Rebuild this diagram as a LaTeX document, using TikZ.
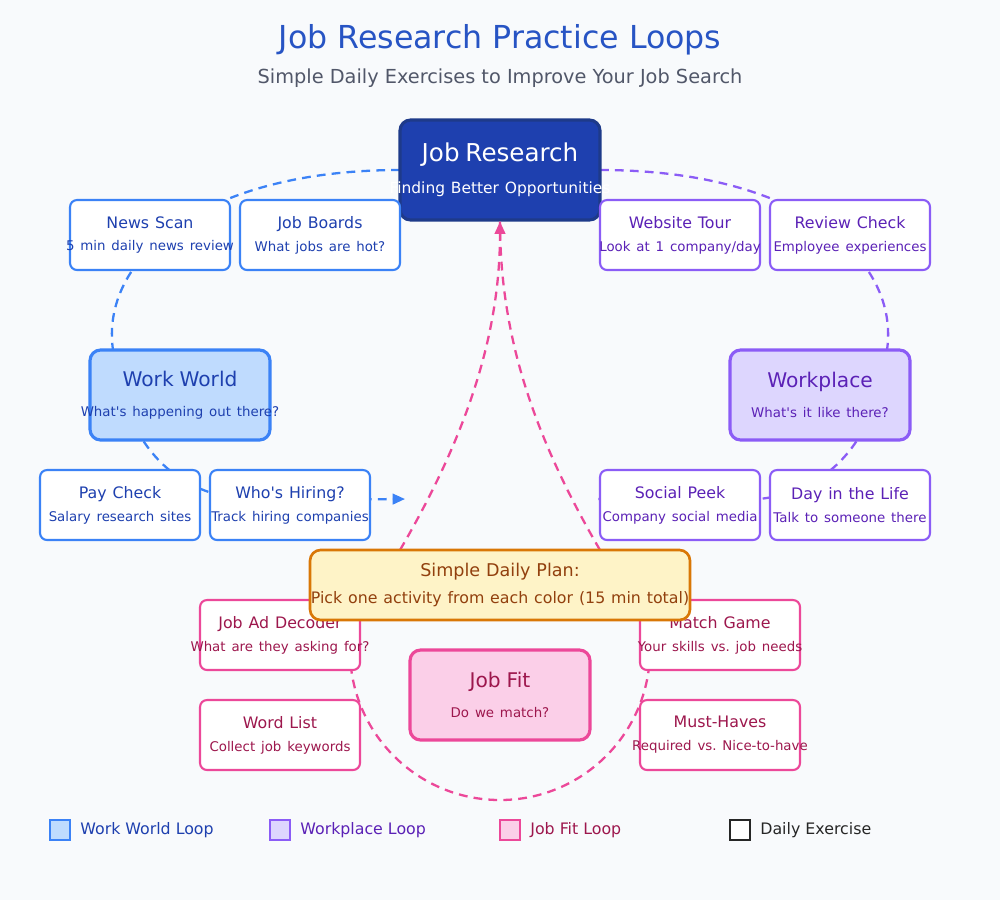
\documentclass[tikz,border=0pt]{standalone}
\usepackage{fontspec}
\setmainfont{DejaVu Sans}
\usetikzlibrary{arrows.meta}
\definecolor{bg}{HTML}{F8FAFC}
\definecolor{bA}{HTML}{3B82F6}\definecolor{bT}{HTML}{1E40AF}\definecolor{bF}{HTML}{BFDBFE}
\definecolor{pA}{HTML}{8B5CF6}\definecolor{pT}{HTML}{5B21B6}\definecolor{pF}{HTML}{DDD6FE}
\definecolor{kA}{HTML}{EC4899}\definecolor{kT}{HTML}{9D174D}\definecolor{kF}{HTML}{FBCFE8}
\definecolor{oA}{HTML}{D97706}\definecolor{oT}{HTML}{92400E}\definecolor{oF}{HTML}{FEF3C7}
\definecolor{jF}{HTML}{1E40AF}\definecolor{jA}{HTML}{1E3A8A}
\newcommand{\fs}[1]{\fontsize{#1}{#1}\selectfont}
\newcommand{\ap}{\textquotesingle}
\newcommand{\bx}[2]{\makebox[0pt]{\fs{9}#1}\\[1pt]\makebox[0pt]{\fs{7.6}#2}}
\newcommand{\bg}[2]{\makebox[0pt]{\fs{11.5}#1}\\[5pt]\makebox[0pt]{\fs{7.6}#2}}
\begin{document}
\frenchspacing
\begin{tikzpicture}[x=0.02cm,y=-0.02cm,
 box/.style={draw,line width=1.2pt,rounded corners=4pt,fill=white,minimum height=1.4cm,text width=3.2cm,align=center,inner sep=0pt},
 big/.style={draw,line width=1.8pt,rounded corners=6pt,text width=3.6cm,minimum height=1.8cm,align=center,inner sep=0pt},
 loop/.style={line width=1.3pt,dash pattern=on 5pt off 3.5pt},
 tt/.style={font=\fs{9}}]
\fill[bg] (0,0) rectangle (1000,900);
\node[font=\fs{18},text=bT!70!bA] (title) at (500,40) {Job Research Practice Loops};
\node[font=\fs{11},text=black!60!bT!40!gray] (sub) at (500,78) {Simple Daily Exercises to Improve Your Job Search};
% loops
\coordinate (ba) at (405,499);
\coordinate (pa) at (597,499);
\draw[loop,bA,-{Triangle[length=7pt,width=6pt]}] (400,170) .. controls (200,170) and (100,260) .. (113,350) .. controls (125,450) and (180,500) .. (260,500) -- (ba);
\draw[loop,pA] (600,170) .. controls (800,170) and (900,260) .. (887,350) .. controls (875,450) and (820,500) .. (740,500) -- (pa);
\draw[loop,kA] (350,650) arc[start angle=180,end angle=0,radius=150];
% centre
\node[big,fill=jF,draw=jA,text width=4cm,minimum height=2cm,text=white] (jr) at (500,170) {\makebox[0pt]{\fs{14}Job Research}\\[6pt]\makebox[0pt]{\fs{8.8}Finding Better Opportunities}};
\node[box,draw=bA,text=bT] (ns) at (150,235) {\bx{News Scan}{5 min daily news review}};
\node[box,draw=bA,text=bT] (jb) at (320,235) {\bx{Job Boards}{What jobs are hot?}};
\node[box,draw=pA,text=pT] (wt) at (680,235) {\bx{Website Tour}{Look at 1 company/day}};
\node[box,draw=pA,text=pT] (rc) at (850,235) {\bx{Review Check}{Employee experiences}};
\node[big,fill=bF,draw=bA,text=bT] (ww) at (180,395) {\bg{Work World}{What\ap s happening out there?}};
\node[big,fill=pF,draw=pA,text=pT] (wp) at (820,395) {\bg{Workplace}{What\ap s it like there?}};
\node[box,draw=bA,text=bT] (pc) at (120,505) {\bx{Pay Check}{Salary research sites}};
\node[box,draw=bA,text=bT] (wh) at (290,505) {\bx{Who\ap s Hiring?}{Track hiring companies}};
\node[box,draw=pA,text=pT] (sp) at (680,505) {\bx{Social Peek}{Company social media}};
\node[box,draw=pA,text=pT] (dl) at (850,505) {\bx{Day in the Life}{Talk to someone there}};
\node[box,draw=kA,text=kT] (ad) at (280,635) {\bx{Job Ad Decoder}{What are they asking for?}};
\node[box,draw=kA,text=kT] (mg) at (720,635) {\bx{Match Game}{Your skills vs. job needs}};
\node[box,draw=kA,text=kT] (wl) at (280,735) {\bx{Word List}{Collect job keywords}};
\node[box,draw=kA,text=kT] (mh) at (720,735) {\bx{Must-Haves}{Required vs. Nice-to-have}};
\node[big,fill=kF,draw=kA,text=kT] (jf) at (500,695) {\bg{Job Fit}{Do we match?}};
% pink connectors
\coordinate (p1) at (400,550);\coordinate (p2) at (600,550);
\draw[loop,kA,-{Triangle[length=7pt,width=6pt]}] (p1) .. controls (470,430) and (500,330) .. (jr.south);
\draw[loop,kA] (p2) .. controls (530,430) and (500,330) .. (jr.south);
\node[draw=oA,fill=oF,line width=1.5pt,rounded corners=6pt,text width=7.6cm,minimum height=1.4cm,align=center,inner sep=0pt,text=oT] (plan) at (500,585) {\makebox[0pt]{\fs{10}Simple Daily Plan:}\\[3pt]\makebox[0pt]{\fs{9}Pick one activity from each color (15 min total)}};
% legend
\node[draw=bA,fill=bF,line width=1pt,minimum size=0.4cm,inner sep=0pt] (l1) at (60,830) {};
\node[anchor=west,tt,text=bT,inner sep=0pt] (l1t) at (80,830) {Work World Loop};
\node[draw=pA,fill=pF,line width=1pt,minimum size=0.4cm,inner sep=0pt] (l2) at (280,830) {};
\node[anchor=west,tt,text=pT,inner sep=0pt] (l2t) at (300,830) {Workplace Loop};
\node[draw=kA,fill=kF,line width=1pt,minimum size=0.4cm,inner sep=0pt] (l3) at (510,830) {};
\node[anchor=west,tt,text=kT,inner sep=0pt] (l3t) at (530,830) {Job Fit Loop};
\node[draw=black!85,fill=white,line width=1pt,minimum size=0.4cm,inner sep=0pt] (l4) at (740,830) {};
\node[anchor=west,tt,text=black!85,inner sep=0pt] (l4t) at (760,830) {Daily Exercise};
\end{tikzpicture}
\end{document}
